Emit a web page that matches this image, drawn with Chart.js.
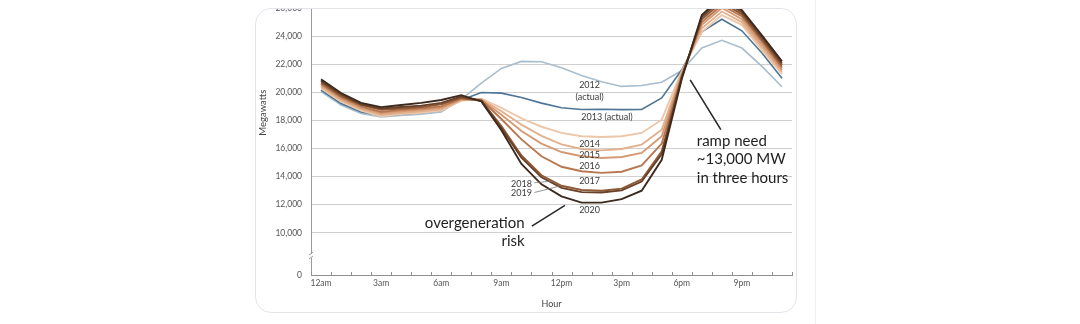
<!DOCTYPE html>
<html>
<head>
<meta charset="utf-8">
<script src="https://cdn.jsdelivr.net/npm/chart.js@4.4.1/dist/chart.umd.min.js"></script>
<style>
  html, body { margin: 0; padding: 0; background: #fff; width: 1080px; height: 324px; overflow: hidden; }
  #rule { position: absolute; left: 815px; top: 0; width: 1px; height: 324px; background: #eef0f3; }
  #card { position: absolute; left: 255px; top: 8px; width: 540px; height: 303px; border: 1px solid #e1e5ea; border-radius: 16px; overflow: hidden; background: #fff; }
  #wrap { position: absolute; left: 0; top: -19px; width: 540px; height: 322px; }
</style>
</head>
<body>
<div id="rule"></div>
<div id="card"><div id="wrap"><canvas id="duckChart"></canvas></div></div>
<script>
// net load, megawatts, hour by hour
var hours = ['12am','1am','2am','3am','4am','5am','6am','7am','8am','9am','10am','11am',
             '12pm','1pm','2pm','3pm','4pm','5pm','6pm','7pm','8pm','9pm','10pm','11pm'];
var years = ['2012','2013','2014','2015','2016','2017','2018','2019','2020'];

var load2012 = [20050,19100,18500,18250,18350,18450,18600,19500,20650,21700,22200,22180,21750,21200,20750,20420,20480,20720,21550,23150,23700,23150,21850,20400];
var load2013 = [20150,19200,18600,18350,18450,18550,18700,19450,19990,19940,19630,19230,18900,18780,18800,18770,18780,19600,21600,24300,25200,24380,22800,21000];
var load2014 = [20300,19350,18700,18300,18450,18550,18700,19400,19550,18900,18150,17550,17110,16870,16820,16870,17110,18050,21500,24300,25500,24800,23000,21300];
var load2015 = [20400,19450,18800,18400,18550,18650,18800,19450,19500,18650,17700,16900,16300,15970,15870,15970,16280,17340,21400,24550,25750,25000,23200,21450];
var load2016 = [20500,19550,18900,18500,18650,18750,18900,19500,19450,18400,17250,16350,15750,15450,15330,15400,15690,16870,21300,24800,26000,25200,23400,21600];
var load2017 = [20600,19650,19000,18600,18750,18850,19000,19550,19450,18100,16650,15450,14700,14380,14270,14350,14800,16350,21200,25000,26200,25400,23600,21750];
var load2018 = [20700,19750,19100,18750,18850,18950,19150,19600,19400,17600,15500,14100,13350,13050,13000,13150,13800,15800,21100,25200,26400,25550,23750,21900];
var load2019 = [20800,19850,19150,18850,18950,19050,19250,19700,19400,17450,15350,13950,13200,12900,12870,13020,13650,15600,21050,25350,26600,25700,23900,22050];
var load2020 = [20920,19950,19250,18950,19100,19250,19450,19800,19350,17300,14900,13450,12600,12150,12150,12400,13000,15200,20950,25500,26800,25850,24050,22200];

var yTicks = [0,10000,12000,14000,16000,18000,20000,22000,24000,26000];
var lineColors = ['#a9bdcc','#4e7596','#ecc7aa','#e2b08d','#d49a73','#b9774f','#8e5a37','#6a4128','#3d2a1f'];

// the axis is broken between 0 and 10,000: squeeze that stretch
function toAxis(v) {
  return v >= 10000 ? v - 7000 : v * 0.3;
}

var series = [load2012, load2013, load2014, load2015, load2016, load2017, load2018, load2019, load2020];
var datasets = series.map(function(vals, i) {
  return {
    label: years[i],
    data: vals.map(toAxis),
    borderColor: lineColors[i],
    borderWidth: i < 2 ? 1.6 : 1.9,
    pointRadius: 0,
    fill: false,
    clip: false,
    order: series.length - i
  };
});

var font = 'Lato, "Open Sans", sans-serif';

// year notes and callouts, placed in hour / megawatt terms
var yearNotes = [
  ['2012', 13.4, 20530], ['(actual)', 13.4, 19680], ['2013 (actual)', 14.27, 18260],
  ['2014', 13.4, 16350], ['2015', 13.4, 15500], ['2016', 13.4, 14740], ['2017', 13.4, 13670],
  ['2020', 13.4, 11620], ['2018', 10, 13490], ['2019', 10, 12800]
];
var leaders = [
  [[10.65, 13560], [11.5, 13680]],
  [[10.65, 12870], [11.9, 13330]]
];

var decor = {
  id: 'decor',
  afterDraw: function(chart) {
    var ctx = chart.ctx, xs = chart.scales.x, ys = chart.scales.y, area = chart.chartArea;
    function px(h) { return xs.getPixelForValue(h); }
    function py(mw) { return ys.getPixelForValue(toAxis(mw)); }
    ctx.save();

    // small ticks between the hours, pointing up from the axis
    ctx.strokeStyle = '#8f8f8f';
    ctx.lineWidth = 1;
    for (var i = 0; i <= hours.length; i++) {
      var tx = Math.round(px(i - 0.5)) + 0.5;
      ctx.beginPath();
      ctx.moveTo(tx, area.bottom);
      ctx.lineTo(tx, area.bottom - 3);
      ctx.stroke();
    }

    // break mark on the value axis
    var by = py(0) + (py(10000) - py(0)) * 0.45;
    ctx.fillStyle = '#fff';
    ctx.fillRect(area.left - 3, by - 2, 6, 4);
    ctx.strokeStyle = '#9a9a9a';
    ctx.beginPath();
    ctx.moveTo(area.left - 2, by - 1);
    ctx.lineTo(area.left + 2, by - 4);
    ctx.moveTo(area.left - 2, by + 3);
    ctx.lineTo(area.left + 2, by);
    ctx.stroke();

    // axis title
    ctx.fillStyle = '#444';
    ctx.font = '9.5px ' + font;
    ctx.textAlign = 'center';
    ctx.textBaseline = 'middle';
    ctx.save();
    ctx.translate(area.left - 48, py(18550));
    ctx.rotate(-Math.PI / 2);
    ctx.fillText('Megawatts', 0, 0);
    ctx.restore();

    // year labels
    ctx.font = '9px ' + font;
    ctx.fillStyle = '#3a3a3a';
    yearNotes.forEach(function(n) {
      ctx.fillText(n[0], px(n[1]), py(n[2]));
    });
    ctx.strokeStyle = '#777';
    ctx.lineWidth = 0.8;
    leaders.forEach(function(l) {
      ctx.beginPath();
      ctx.moveTo(px(l[0][0]), py(l[0][1]));
      ctx.lineTo(px(l[1][0]), py(l[1][1]));
      ctx.stroke();
    });

    // callouts
    ctx.strokeStyle = '#2a2a2a';
    ctx.lineWidth = 1.6;
    ctx.beginPath();
    ctx.moveTo(px(10.52), py(10480));
    ctx.lineTo(px(12.17), py(11950));
    ctx.moveTo(px(18.42), py(20890));
    ctx.lineTo(px(19.95), py(17340));
    ctx.stroke();

    ctx.fillStyle = '#1f1f1f';
    ctx.font = '15px ' + font;
    ctx.textAlign = 'center';
    ctx.fillText('overgeneration', px(7.67), py(10670));
    ctx.textAlign = 'right';
    ctx.fillText('risk', px(10.16), py(8010));
    ctx.textAlign = 'left';
    ctx.fillText('ramp need', px(18.75), py(16510));
    ctx.fillText('~13,000 MW', px(18.75), py(15210));
    ctx.fillText('in three hours', px(18.75), py(13865));
    ctx.restore();
  }
};

var duckChart = new Chart(document.getElementById('duckChart').getContext('2d'), {
  type: 'line',
  data: { labels: hours, datasets: datasets },
  options: {
    responsive: true,
    maintainAspectRatio: false,
    animation: false,
    layout: { padding: { top: 18, right: 4, left: 0, bottom: 0 } },
    plugins: { legend: { display: false }, tooltip: { enabled: false } },
    scales: {
      x: {
        type: 'category',
        offset: true,
        grid: { display: false, offset: true },
        border: { display: true, color: '#8f8f8f' },
        ticks: {
          autoSkip: false, maxRotation: 0, padding: -5, color: '#555',
          font: { family: font, size: 8.5 },
          callback: function(v, i) { return i % 3 === 0 ? hours[i] : ''; }
        },
        title: { display: true, text: 'Hour', color: '#444', font: { family: font, size: 9 }, padding: { top: 4, bottom: 3 } },
        afterFit: function(scale) { scale.height = 37; }
      },
      y: {
        type: 'linear',
        min: 0,
        max: toAxis(26000),
        afterBuildTicks: function(scale) {
          scale.ticks = yTicks.map(function(v) { return { value: toAxis(v) }; });
        },
        afterFit: function(scale) { scale.width = 55; },
        ticks: {
          padding: 9, color: '#555', font: { family: font, size: 8.5 },
          callback: function(v, i) { return yTicks[i].toLocaleString('en-US'); }
        },
        grid: {
          drawTicks: false,
          lineWidth: 1,
          color: function(c) { return c.tick && c.tick.value === 0 ? 'rgba(0,0,0,0)' : '#cfcfcf'; }
        },
        border: { display: true, color: '#9a9a9a' }
      }
    }
  },
  plugins: [decor]
});
</script>
</body>
</html>
